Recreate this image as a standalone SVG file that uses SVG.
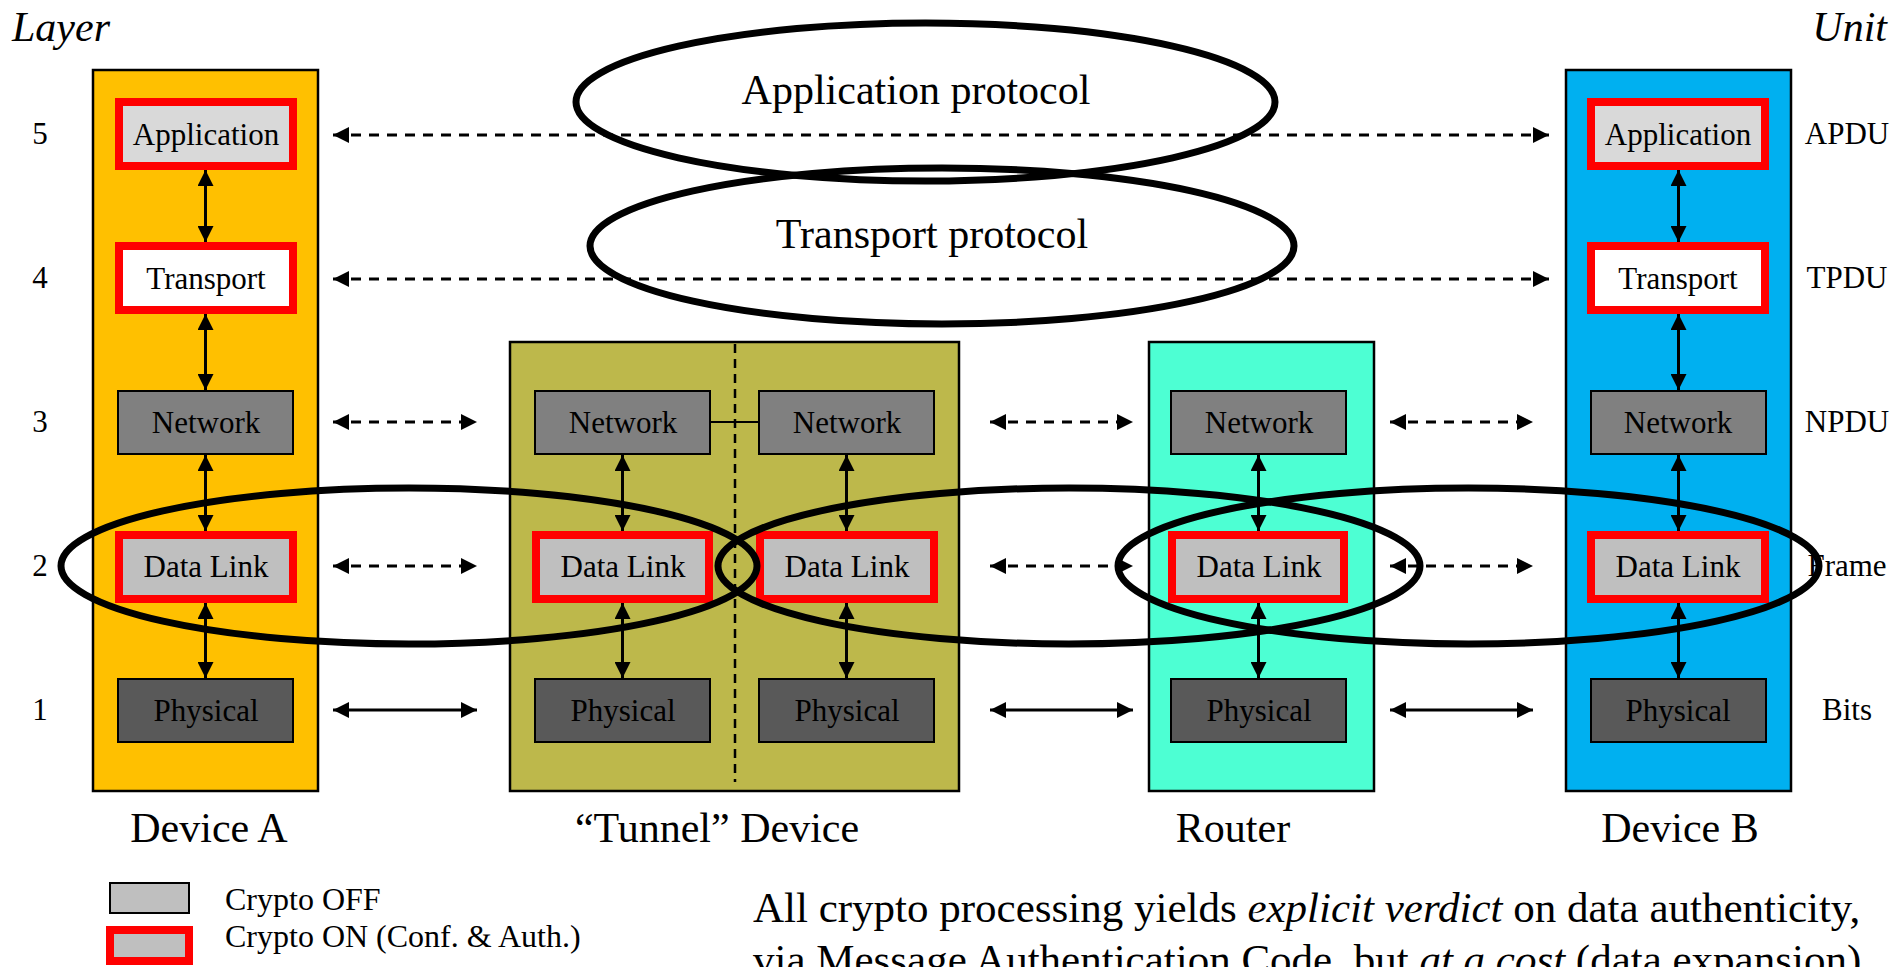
<svg xmlns="http://www.w3.org/2000/svg" width="1894" height="967" viewBox="0 0 1894 967">
<style>
text{font-family:"Liberation Serif","Times New Roman",serif;fill:#000}
.lbl{font-size:31px;text-anchor:middle}
.big{font-size:42px;text-anchor:middle}
.dev{stroke:#000;stroke-width:2.5}
.red{stroke:#ff0000;stroke-width:8}
.gry{stroke:#000;stroke-width:2}
.net{fill:#808080}
.phy{fill:#595959}
.dl{fill:#bfbfbf}
.app{fill:#d9d9d9}
.tr{fill:#ffffff}
.arr{stroke:#000;stroke-width:3;fill:none;marker-start:url(#ah);marker-end:url(#ah)}
.dash{stroke-dasharray:10 8}
.ell{fill:none;stroke:#000;stroke-width:7}
</style>
<defs>
<marker id="ah" markerUnits="userSpaceOnUse" markerWidth="16" markerHeight="16" viewBox="0 0 16 16" refX="16" refY="8" orient="auto-start-reverse">
<path d="M0,0 L16,8 L0,16 z" fill="#000"/>
</marker>
</defs>
<rect width="1894" height="967" fill="#ffffff"/>

<g id="headers">
<text x="12" y="41" style="font-size:42px;font-style:italic">Layer</text>
<text x="1887" y="41" style="font-size:42px;font-style:italic;text-anchor:end">Unit</text>
<text class="lbl" x="40" y="144">5</text>
<text class="lbl" x="40" y="288">4</text>
<text class="lbl" x="40" y="432">3</text>
<text class="lbl" x="40" y="576">2</text>
<text class="lbl" x="40" y="720">1</text>
<text class="lbl" x="1847" y="144">APDU</text>
<text class="lbl" x="1847" y="288">TPDU</text>
<text class="lbl" x="1847" y="432">NPDU</text>
<text class="lbl" x="1847" y="576">Frame</text>
<text class="lbl" x="1847" y="720">Bits</text>
</g>

<g id="deviceA">
<rect class="dev" x="93" y="70" width="225" height="721" fill="#ffc000"/>
<rect class="red app" x="119" y="102" width="174" height="64"/>
<text class="lbl" x="206" y="145">Application</text>
<rect class="red tr" x="119" y="246" width="174" height="64"/>
<text class="lbl" x="206" y="289">Transport</text>
<rect class="gry net" x="118" y="391" width="175" height="63"/>
<text class="lbl" x="206" y="433">Network</text>
<rect class="red dl" x="119" y="535" width="174" height="64"/>
<text class="lbl" x="206" y="577">Data Link</text>
<rect class="gry phy" x="118" y="679" width="175" height="63"/>
<text class="lbl" x="206" y="721">Physical</text>
<text class="big" x="209" y="842">Device A</text>
</g>

<g id="tunnel">
<rect class="dev" x="510" y="342" width="449" height="449" fill="#bdb84b"/>
<line x1="735" y1="344" x2="735" y2="782" stroke="#000" stroke-width="2.5" stroke-dasharray="9 6"/>
<rect class="gry net" x="535" y="391" width="175" height="63"/>
<text class="lbl" x="623" y="433">Network</text>
<rect class="gry net" x="759" y="391" width="175" height="63"/>
<text class="lbl" x="847" y="433">Network</text>
<line x1="710" y1="422" x2="759" y2="422" stroke="#000" stroke-width="2"/>
<rect class="red dl" x="536" y="535" width="173" height="64"/>
<text class="lbl" x="623" y="577">Data Link</text>
<rect class="red dl" x="760" y="535" width="174" height="64"/>
<text class="lbl" x="847" y="577">Data Link</text>
<rect class="gry phy" x="535" y="679" width="175" height="63"/>
<text class="lbl" x="623" y="721">Physical</text>
<rect class="gry phy" x="759" y="679" width="175" height="63"/>
<text class="lbl" x="847" y="721">Physical</text>
<text class="big" x="717" y="842">“Tunnel” Device</text>
</g>

<g id="router">
<rect class="dev" x="1149" y="342" width="225" height="449" fill="#4dffd3"/>
<rect class="gry net" x="1171" y="391" width="175" height="63"/>
<text class="lbl" x="1259" y="433">Network</text>
<rect class="red dl" x="1172" y="535" width="172" height="64"/>
<text class="lbl" x="1259" y="577">Data Link</text>
<rect class="gry phy" x="1171" y="679" width="175" height="63"/>
<text class="lbl" x="1259" y="721">Physical</text>
<text class="big" x="1233" y="842">Router</text>
</g>

<g id="deviceB">
<rect class="dev" x="1566" y="70" width="225" height="721" fill="#00b0f0"/>
<rect class="red app" x="1591" y="102" width="174" height="64"/>
<text class="lbl" x="1678" y="145">Application</text>
<rect class="red tr" x="1591" y="246" width="174" height="64"/>
<text class="lbl" x="1678" y="289">Transport</text>
<rect class="gry net" x="1591" y="391" width="175" height="63"/>
<text class="lbl" x="1678" y="433">Network</text>
<rect class="red dl" x="1591" y="535" width="174" height="64"/>
<text class="lbl" x="1678" y="577">Data Link</text>
<rect class="gry phy" x="1591" y="679" width="175" height="63"/>
<text class="lbl" x="1678" y="721">Physical</text>
<text class="big" x="1680" y="842">Device B</text>
</g>

<g id="connectors">
<!-- vertical stack arrows -->
<line class="arr" x1="205.5" y1="170" x2="205.5" y2="242"/>
<line class="arr" x1="205.5" y1="314" x2="205.5" y2="390"/>
<line class="arr" x1="205.5" y1="455" x2="205.5" y2="531"/>
<line class="arr" x1="205.5" y1="603" x2="205.5" y2="678"/>
<line class="arr" x1="1678.5" y1="170" x2="1678.5" y2="242"/>
<line class="arr" x1="1678.5" y1="314" x2="1678.5" y2="390"/>
<line class="arr" x1="1678.5" y1="455" x2="1678.5" y2="531"/>
<line class="arr" x1="1678.5" y1="603" x2="1678.5" y2="678"/>
<line class="arr" x1="622.5" y1="455" x2="622.5" y2="531"/>
<line class="arr" x1="622.5" y1="603" x2="622.5" y2="678"/>
<line class="arr" x1="846.5" y1="455" x2="846.5" y2="531"/>
<line class="arr" x1="846.5" y1="603" x2="846.5" y2="678"/>
<line class="arr" x1="1258.5" y1="455" x2="1258.5" y2="531"/>
<line class="arr" x1="1258.5" y1="603" x2="1258.5" y2="678"/>
<!-- peer arrows -->
<line class="arr dash" x1="333" y1="135" x2="1549" y2="135"/>
<line class="arr dash" x1="333" y1="279" x2="1549" y2="279"/>
<line class="arr dash" x1="333" y1="422" x2="477" y2="422"/>
<line class="arr dash" x1="990" y1="422" x2="1133" y2="422"/>
<line class="arr dash" x1="1390" y1="422" x2="1533" y2="422"/>
<line class="arr dash" x1="333" y1="566" x2="477" y2="566"/>
<line class="arr dash" x1="990" y1="566" x2="1133" y2="566"/>
<line class="arr dash" x1="1390" y1="566" x2="1533" y2="566"/>
<line class="arr" x1="333" y1="710" x2="477" y2="710"/>
<line class="arr" x1="990" y1="710" x2="1133" y2="710"/>
<line class="arr" x1="1390" y1="710" x2="1533" y2="710"/>
</g>

<g id="protocols">
<ellipse class="ell" cx="925.5" cy="102" rx="349.5" ry="79"/>
<text class="big" x="916" y="104">Application protocol</text>
<ellipse class="ell" cx="942" cy="246" rx="352" ry="78"/>
<text class="big" x="932" y="248">Transport protocol</text>
<ellipse class="ell" cx="409" cy="566" rx="348" ry="78"/>
<ellipse class="ell" cx="1069" cy="566" rx="351" ry="78"/>
<ellipse class="ell" cx="1468.5" cy="566" rx="350.5" ry="78"/>
</g>

<g id="legend">
<rect x="110" y="883" width="79" height="30" fill="#bfbfbf" stroke="#000" stroke-width="2"/>
<text x="225" y="910" style="font-size:32px">Crypto OFF</text>
<rect x="110" y="930" width="79" height="31" fill="#bfbfbf" stroke="#ff0000" stroke-width="8"/>
<text x="225" y="947" style="font-size:32px">Crypto ON (Conf. &amp; Auth.)</text>
</g>

<g id="note" style="font-size:43px">
<text x="753" y="922">All crypto processing yields <tspan font-style="italic">explicit verdict</tspan> on data authenticity,</text>
<text x="753" y="974">via Message Authentication Code, but <tspan font-style="italic">at a cost</tspan> (data expansion)</text>
</g>
</svg>
